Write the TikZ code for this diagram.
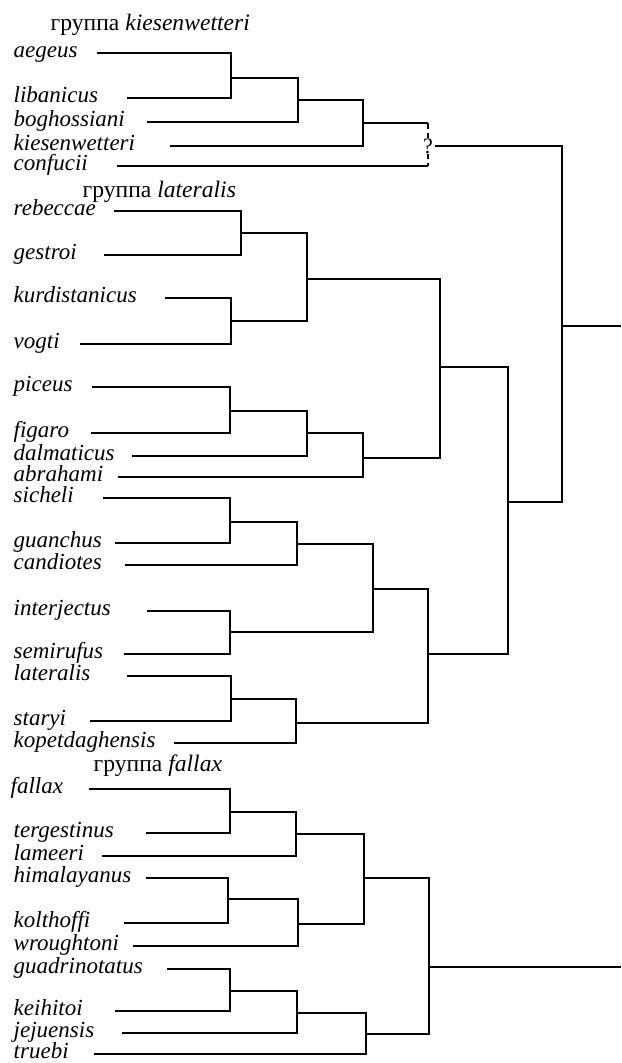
\documentclass[tikz,border=0pt]{standalone}
\usepackage{fontspec}
\setmainfont{Liberation Serif}

\begin{document}
\begin{tikzpicture}[x=0.5pt, y=-0.5pt, line width=0.7pt,
    leaf/.style={anchor=mid west, inner sep=0pt, font=\fontsize{11.5}{13}\selectfont\itshape},
    group/.style={anchor=west, inner sep=0pt, font=\fontsize{11.8}{13}\selectfont}]
    \useasboundingbox (0,0) rectangle (621,1063);

    \node[group] (gkies) at (50,25) {группа \textit{kiesenwetteri}};
    \node[leaf] (aegeus) at (13,53) {aegeus};
    \node[leaf] (libanicus) at (13,98) {libanicus};
    \node[leaf] (boghossiani) at (13,122) {boghossiani};
    \node[leaf] (kiesenwetteri) at (13,146) {kiesenwetteri};
    \node[leaf] (confucii) at (13,166) {confucii};

    \node[group] (glat) at (82,192) {группа \textit{lateralis}};
    \node[leaf] (rebeccae) at (13,211) {rebeccae};
    \node[leaf] (gestroi) at (13,255) {gestroi};
    \node[leaf] (kurdistanicus) at (13,298) {kurdistanicus};
    \node[leaf] (vogti) at (13,344) {vogti};
    \node[leaf] (piceus) at (13,387) {piceus};
    \node[leaf] (figaro) at (13,433) {figaro};
    \node[leaf] (dalmaticus) at (13,456) {dalmaticus};
    \node[leaf] (abrahami) at (13,477) {abrahami};
    \node[leaf] (sicheli) at (13,498) {sicheli};
    \node[leaf] (guanchus) at (13,543) {guanchus};
    \node[leaf] (candiotes) at (13,565) {candiotes};
    \node[leaf] (interjectus) at (13,611) {interjectus};
    \node[leaf] (semirufus) at (13,654) {semirufus};
    \node[leaf] (lateralis) at (13,676) {lateralis};
    \node[leaf] (staryi) at (13,721) {staryi};
    \node[leaf] (kopetdaghensis) at (13,743) {kopetdaghensis};

    \node[group] (gfal) at (93,766) {группа \textit{fallax}};
    \node[leaf] (fallax) at (10,789) {fallax};
    \node[leaf] (tergestinus) at (13,833) {tergestinus};
    \node[leaf] (lameeri) at (13,856) {lameeri};
    \node[leaf] (himalayanus) at (13,878) {himalayanus};
    \node[leaf] (kolthoffi) at (13,923) {kolthoffi};
    \node[leaf] (wroughtoni) at (13,946) {wroughtoni};
    \node[leaf] (guadrinotatus) at (13,969) {guadrinotatus};
    \node[leaf] (keihitoi) at (13,1011) {keihitoi};
    \node[leaf] (jejuensis) at (13,1033) {jejuensis};
    \node[leaf] (truebi) at (13,1054) {truebi};

    \coordinate (k1) at (231,78);
    \coordinate (k2) at (298,100);
    \coordinate (k3) at (363,123);
    \coordinate (k4) at (428,146);
    \coordinate (l1) at (241,233);
    \coordinate (l2) at (231,321);
    \coordinate (l3) at (307,279);
    \coordinate (l4) at (230,411);
    \coordinate (l5) at (307,433);
    \coordinate (l6) at (363,458);
    \coordinate (l7) at (440,367);
    \coordinate (l8) at (230,522);
    \coordinate (l9) at (297,544);
    \coordinate (l10) at (230,632);
    \coordinate (l11) at (373,589);
    \coordinate (l12) at (231,699);
    \coordinate (l13) at (296,723);
    \coordinate (l14) at (428,654);
    \coordinate (l15) at (508,502);
    \coordinate (r1) at (562,326);
    \coordinate (r1end) at (621,326);
    \coordinate (f1) at (230,812);
    \coordinate (f2) at (296,834);
    \coordinate (f3) at (228,899);
    \coordinate (f4) at (298,924);
    \coordinate (f5) at (364,878);
    \coordinate (f6) at (230,991);
    \coordinate (f7) at (297,1013);
    \coordinate (f8) at (366,1034);
    \coordinate (f9) at (429,967);
    \coordinate (r2end) at (621,967);

    \draw ([xshift=9.5pt]aegeus.mid east) -| (k1) |- ([xshift=14pt]libanicus.mid east);
    \draw (k1) -| (k2) |- ([xshift=10.5pt]boghossiani.mid east);
    \draw (k2) -| (k3) |- ([xshift=17pt]kiesenwetteri.mid east);
    \draw (k3) -- (k3 -| k4);
    \draw[densely dashed] (k3 -| k4) -- (k4 |- confucii.mid east);
    \draw ([xshift=14.5pt]confucii.mid east) -- (k4 |- confucii.mid east);
    \node[fill=white, inner sep=0.5pt, font=\fontsize{11}{12}\selectfont] (q) at (k4) {?};

    \draw ([xshift=8.5pt]rebeccae.mid east) -| (l1) |- ([xshift=13.5pt]gestroi.mid east);
    \draw ([xshift=14pt]kurdistanicus.mid east) -| (l2) |- ([xshift=10pt]vogti.mid east);
    \draw (l1) -| (l3) |- (l2);
    \draw ([xshift=9.5pt]piceus.mid east) -| (l4) |- ([xshift=10.5pt]figaro.mid east);
    \draw (l4) -| (l5) |- ([xshift=8.5pt]dalmaticus.mid east);
    \draw (l5) -| (l6) |- ([xshift=7pt]abrahami.mid east);
    \draw (l3) -| (l7) |- (l6);
    \draw ([xshift=14.5pt]sicheli.mid east) -| (l8) |- ([xshift=6pt]guanchus.mid east);
    \draw (l8) -| (l9) |- ([xshift=11pt]candiotes.mid east);
    \draw ([xshift=18pt]interjectus.mid east) -| (l10) |- ([xshift=10pt]semirufus.mid east);
    \draw (l9) -| (l11) |- (l10);
    \draw ([xshift=18pt]lateralis.mid east) -| (l12) |- ([xshift=11.5pt]staryi.mid east);
    \draw (l12) -| (l13) |- ([xshift=9pt]kopetdaghensis.mid east);
    \draw (l11) -| (l14) |- (l13);
    \draw (l7) -| (l15) |- (l14);

    \draw (q) -| (r1) |- (l15);
    \draw (r1) -- (r1end);

    \draw ([xshift=12.5pt]fallax.mid east) -| (f1) |- ([xshift=16pt]tergestinus.mid east);
    \draw (f1) -| (f2) |- ([xshift=8.5pt]lameeri.mid east);
    \draw ([xshift=7pt]himalayanus.mid east) -| (f3) |- ([xshift=16.5pt]kolthoffi.mid east);
    \draw (f3) -| (f4) |- ([xshift=6.5pt]wroughtoni.mid east);
    \draw (f2) -| (f5) |- (f4);
    \draw ([xshift=12pt]guadrinotatus.mid east) -| (f6) |- ([xshift=16pt]keihitoi.mid east);
    \draw (f6) -| (f7) |- ([xshift=13.5pt]jejuensis.mid east);
    \draw (f7) -| (f8) |- ([xshift=12.5pt]truebi.mid east);
    \draw (f5) -| (f9) |- (f8);
    \draw (f9) -- (r2end);
  \end{tikzpicture}
\end{document}
